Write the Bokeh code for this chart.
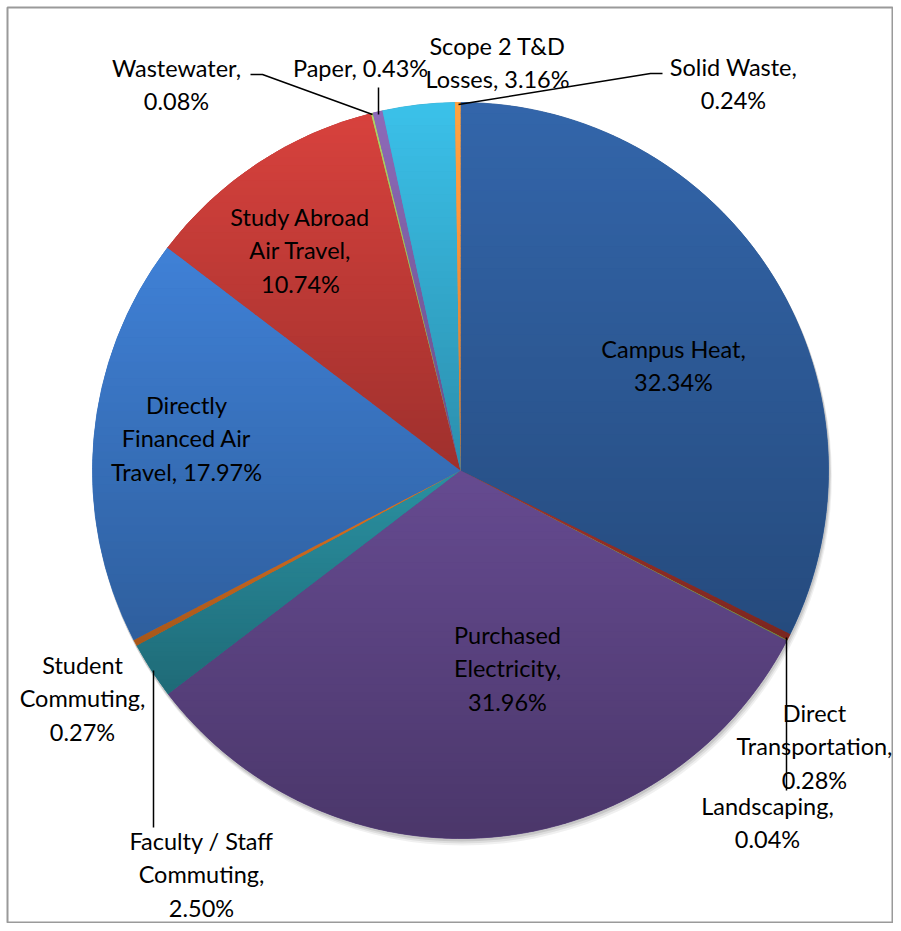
import numpy as np
from bokeh.plotting import figure
from bokeh.models import Range1d, ColumnDataSource
from bokeh.core.properties import value
from bokeh.embed import file_html
from bokeh.resources import INLINE

# ---- data ----
categories = ["Campus Heat", "Direct Transportation", "Landscaping", "Purchased Electricity",
              "Faculty / Staff Commuting", "Student Commuting", "Directly Financed Air Travel",
              "Study Abroad Air Travel", "Wastewater", "Paper", "Scope 2 T&D Losses", "Solid Waste"]
shares = [32.34, 0.28, 0.04, 31.96, 2.50, 0.27, 17.97, 10.74, 0.08, 0.43, 3.16, 0.24]
label_texts = ["Campus Heat,\n32.34%", "Direct\nTransportation,\n0.28%", "Landscaping,\n0.04%",
               "Purchased\nElectricity,\n31.96%", "Faculty / Staff\nCommuting,\n2.50%",
               "Student\nCommuting,\n0.27%", "Directly\nFinanced Air\nTravel, 17.97%",
               "Study Abroad\nAir Travel,\n10.74%", "Wastewater,\n0.08%", "Paper, 0.43%",
               "Scope 2 T&D\nLosses, 3.16%", "Solid Waste,\n0.24%"]
colors = ["#2D5A97", "#922E26", "#86A44B", "#5A4280", "#25808F", "#C8681F",
          "#3872BE", "#BF3A36", "#9BBB59", "#7D5EA3", "#34ABCF", "#F5913A"]

# ---- layout (picture pixel positions) ----
W, H = 893, 923
B = 7  # frame offset (border at left/top)
def Y(py):
    return H - py

CX, CY, R = 460, Y(470), 368
label_pos = [(673, 365), (814, 746), (767, 822), (507, 668), (201, 874), (82, 698),
             (186, 438), (300, 250), (176, 84), (360, 67), (497, 62), (733, 83)]
leaders = [
    [(250, 74), (262, 74), (372, 114)],
    [(378, 87), (378, 114)],
    [(458, 104), (650, 73), (662, 73)],
    [(786, 637), (786, 790)],
    [(153, 670), (153, 827)],
]
GRAD_TOP, GRAD_BOT, NBANDS = 1.13, 0.83, 48

vals = np.array(shares, dtype=float)
frac = vals / vals.sum()
cum = np.concatenate([[0], np.cumsum(frac)])
start = np.pi / 2 - 2 * np.pi * cum[:-1]
end = np.pi / 2 - 2 * np.pi * cum[1:]

def hex2rgb(h):
    h = h.lstrip("#")
    return np.array([int(h[i:i + 2], 16) for i in (0, 2, 4)], dtype=float)

def rgb2hex(c):
    c = np.clip(np.round(c), 0, 255).astype(int)
    return "#%02x%02x%02x" % tuple(c)

def clip_band(poly, lo, hi):
    def clip_edge(pts, keep, yv):
        out = []
        n = len(pts)
        for i in range(n):
            cur, prev = pts[i], pts[i - 1]
            if keep(cur):
                if not keep(prev):
                    t = (yv - prev[1]) / (cur[1] - prev[1])
                    out.append((prev[0] + t * (cur[0] - prev[0]), yv))
                out.append(cur)
            elif keep(prev):
                t = (yv - prev[1]) / (cur[1] - prev[1])
                out.append((prev[0] + t * (cur[0] - prev[0]), yv))
        return out
    p1 = clip_edge(poly, lambda q: q[1] >= lo, lo)
    if len(p1) < 3:
        return []
    return clip_edge(p1, lambda q: q[1] <= hi, hi)

p = figure(width=W, height=H, x_range=Range1d(B, W), y_range=Range1d(0, H - B),
           output_backend="svg", toolbar_location=None,
           min_border_left=B, min_border_top=B, min_border_right=0, min_border_bottom=0,
           background_fill_color="white", border_fill_color="white")
p.axis.visible = False
p.grid.visible = False
p.outline_line_color = "#9a9a9a"
p.outline_line_width = 2

# soft shadow
for off, a in [(6, 0.06), (4, 0.08), (2, 0.10)]:
    p.circle(x=[CX + off * 0.4], y=[CY - off], radius=R + 1, fill_color="black",
             fill_alpha=a, line_color=None)

# base slices
src = ColumnDataSource(dict(start=start, end=end, color=colors, cat=categories))
p.wedge(x=CX, y=CY, radius=R, start_angle="start", end_angle="end", direction="clock",
        fill_color="color", line_color="color", line_width=0.8, source=src)

# vertical gradient shading for each slice (top lighter, bottom darker)
gx, gy, gc = [], [], []
for s, e, col in zip(start, end, colors):
    n = max(3, int(abs(s - e) / np.radians(0.5)) + 2)
    th = np.linspace(s, e, n)
    poly = [(CX, CY)] + [(CX + R * np.cos(t), CY + R * np.sin(t)) for t in th]
    ys_ = [q[1] for q in poly]
    ymin, ymax = min(ys_), max(ys_)
    if ymax - ymin < 1:
        continue
    base = hex2rgb(col)
    edges = np.linspace(ymax, ymin, NBANDS + 1)
    for k in range(NBANDS):
        hi, lo = edges[k], edges[k + 1]
        piece = clip_band(poly, lo - 0.3, hi + 0.3)
        if len(piece) < 3:
            continue
        f = GRAD_TOP + (GRAD_BOT - GRAD_TOP) * (k + 0.5) / NBANDS
        gx.append([q[0] for q in piece])
        gy.append([q[1] for q in piece])
        gc.append(rgb2hex(base * f))
p.patches(xs=gx, ys=gy, fill_color=gc, line_color=None)

for pts in leaders:
    p.line(x=[q[0] for q in pts], y=[Y(q[1]) for q in pts], line_color="black", line_width=1.5)

lsrc = ColumnDataSource(dict(x=[q[0] for q in label_pos], y=[Y(q[1]) for q in label_pos],
                             text=label_texts))
p.text(x="x", y="y", text="text", source=lsrc, text_align="center", text_baseline="middle",
       text_font=value("Lato"), text_font_size="23.5px", text_line_height=1.18,
       text_color="black")

open("out.html", "w").write(file_html(p, INLINE))
